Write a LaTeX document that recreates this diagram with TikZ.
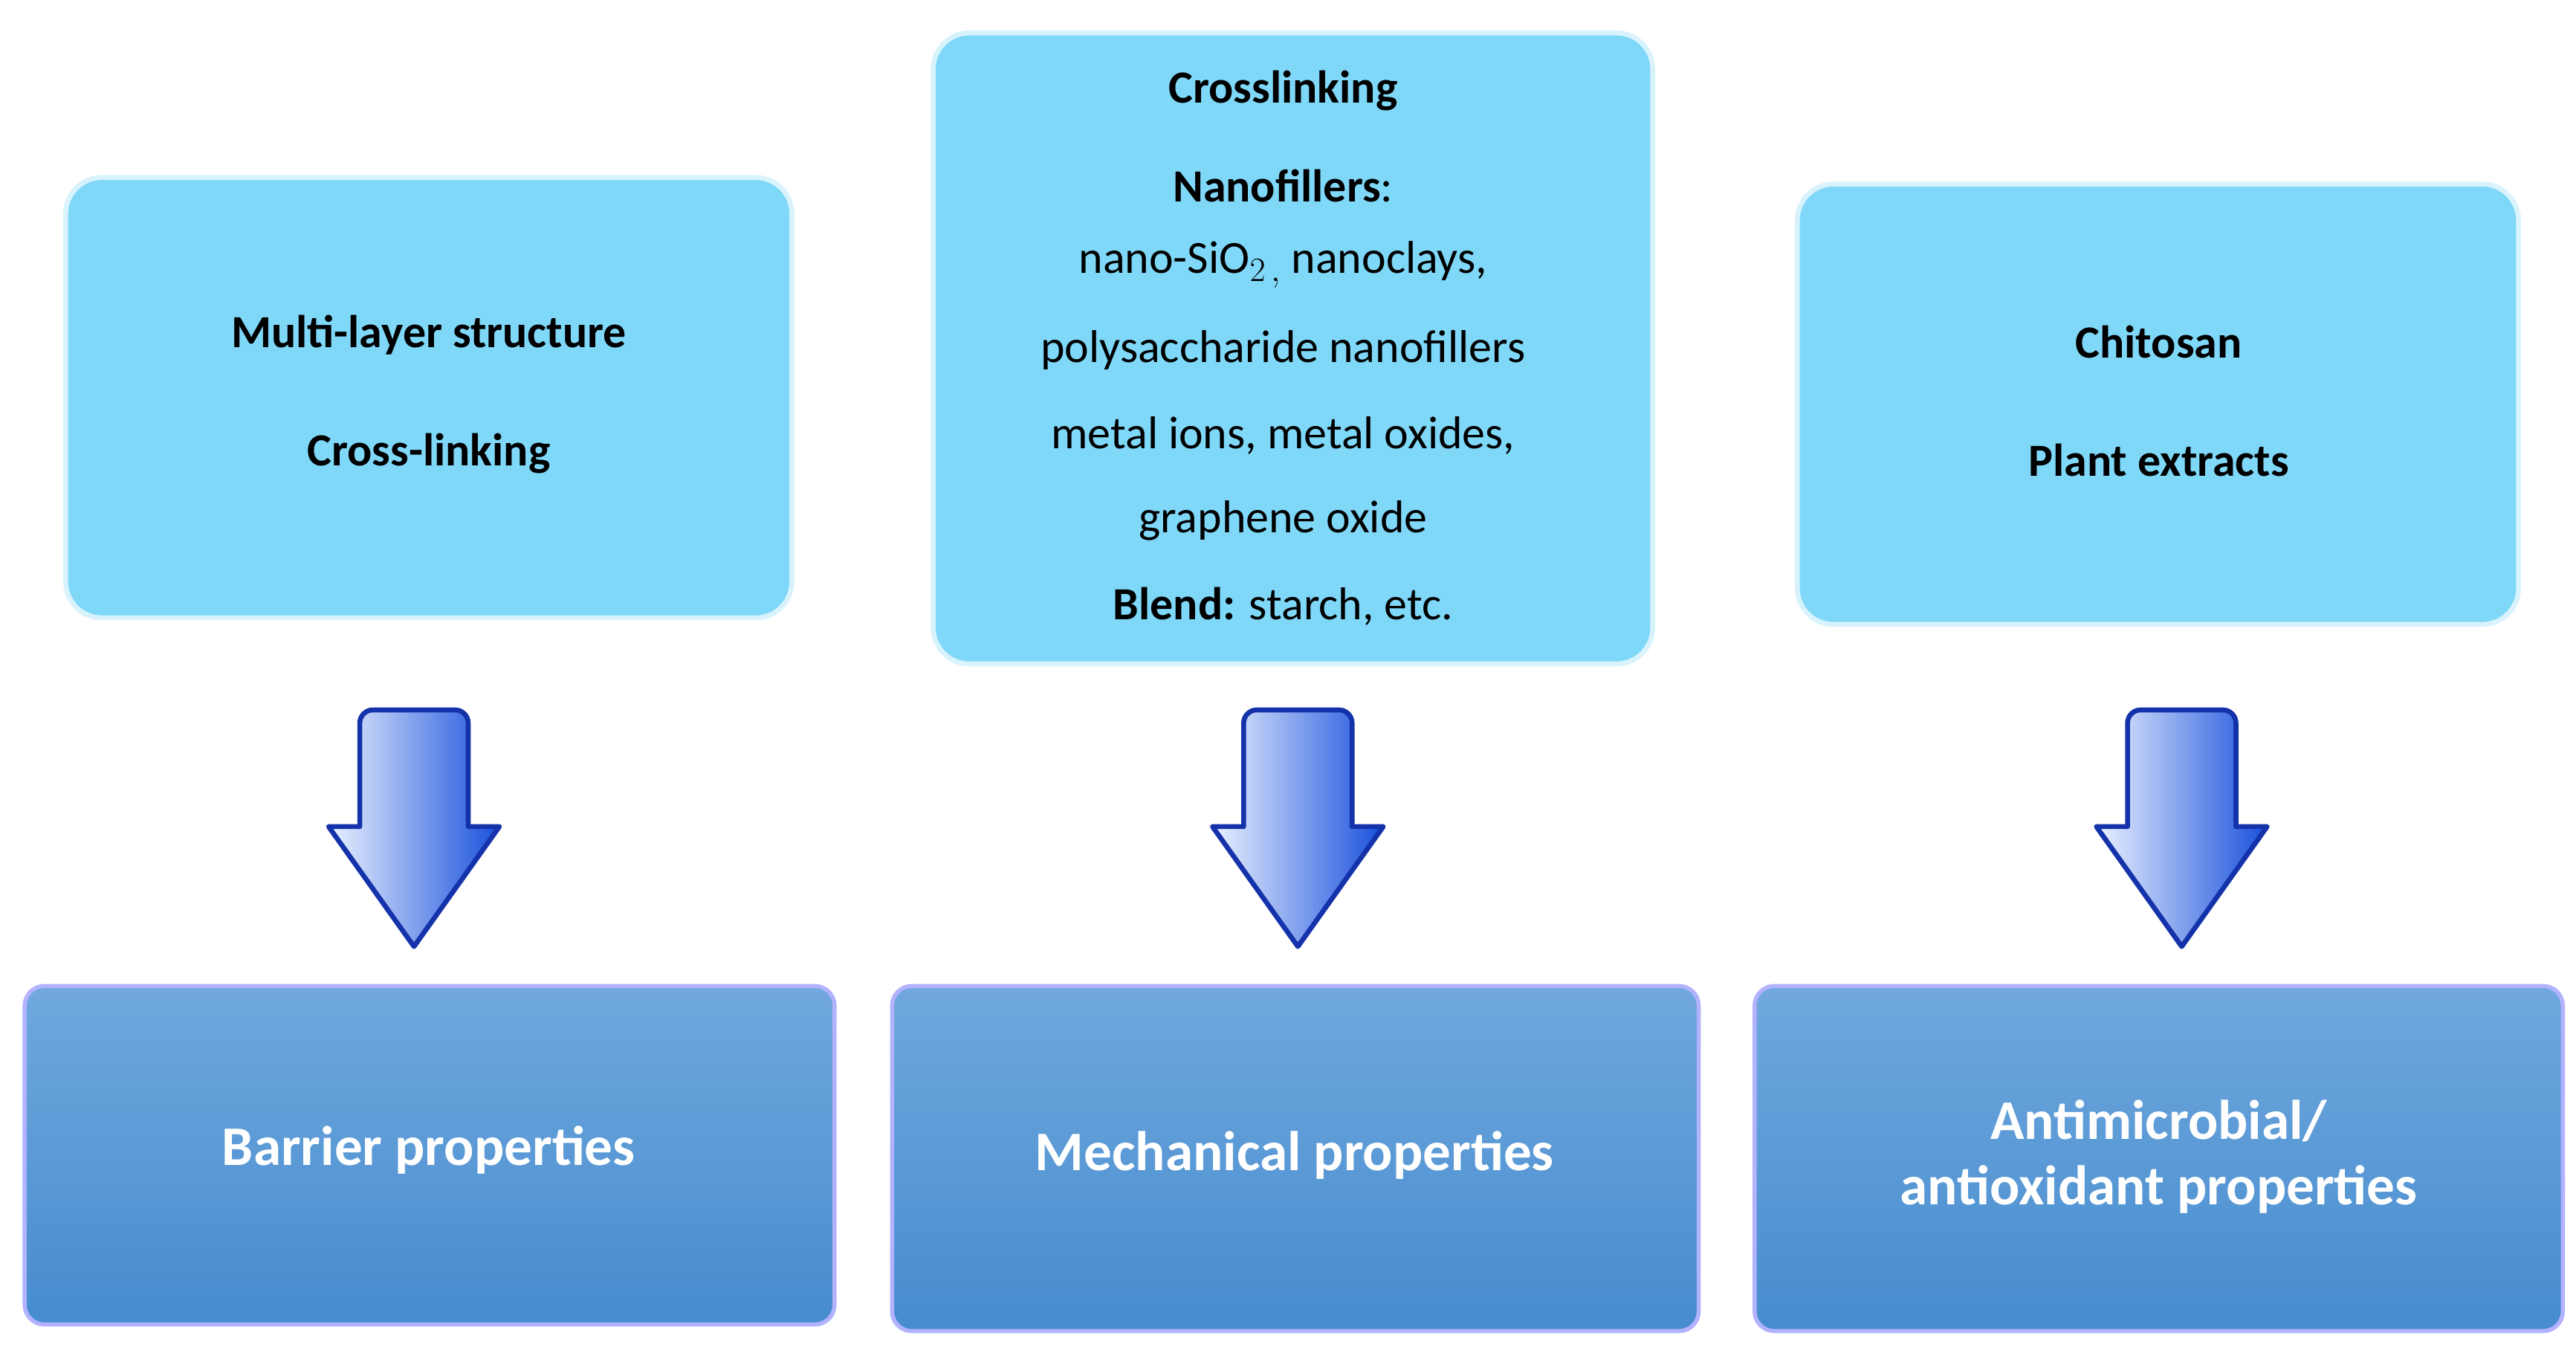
\documentclass[tikz,border=0pt]{standalone}
\usepackage{fontspec}
\setmainfont{Carlito}
\begin{document}
\begin{tikzpicture}[x=1pt,y=-1pt,
  top/.style={draw=white!85!cyan,line width=3pt,fill={rgb,255:red,128;green,216;blue,248},rounded corners=22pt,inner sep=0pt},
  bot/.style={draw=white!70!blue,line width=2.5pt,rounded corners=12pt,top color={rgb,255:red,112;green,168;blue,222},bottom color={rgb,255:red,70;green,140;blue,206},inner sep=0pt},
  txt/.style={font=\fontsize{28}{30}\selectfont,align=center},
  btxt/.style={font=\fontsize{34}{40}\selectfont\bfseries,text=white,align=center},
  arr/.style={draw={rgb,255:red,20;green,50;blue,170},line width=3pt,line join=round,left color={rgb,255:red,235;green,242;blue,255},right color={rgb,255:red,25;green,80;blue,220}}]
\useasboundingbox (0,0) rectangle (1568,823);
\fill[white] (0,0) rectangle (1568,823);
% top boxes
\path[top] (40,108) rectangle (482,376);
\path[top] (568,20) rectangle (1006,404);
\path[top] (1094,112) rectangle (1533,380);
\node[txt] (t1a) at (261,204) {\bfseries Multi-layer structure};
\node[txt] (t1b) at (261,276) {\bfseries Cross-linking};
\node[txt] (t2a) at (781,55) {\bfseries Crosslinking};
\node[txt] (t2b) at (781,113) {\textbf{Nanofillers}:};
\node[txt] (t2c) at (781,161) {nano-SiO$_{2\,,}$ nanoclays,};
\node[txt] (t2d) at (781,213) {polysaccharide nanofillers};
\node[txt] (t2e) at (781,265) {metal ions, metal oxides,};
\node[txt] (t2f) at (781,317) {graphene oxide};
\node[txt] (t2g) at (781,369) {\textbf{Blend:} starch, etc.};
\node[txt] (t3a) at (1314,208) {\bfseries Chitosan};
\node[txt] (t3b) at (1314,280) {\bfseries Plant extracts};
% arrows
\foreach \c in {252,790,1328}{
  \path[arr] (\c-33,440) arc[start angle=180,end angle=270,radius=8] -- (\c+25,432) arc[start angle=270,end angle=360,radius=8]
    -- (\c+33,503) -- (\c+52,503) -- (\c,576) -- (\c-52,503) -- (\c-33,503) -- cycle;
}
% bottom boxes
\path[bot] (15,600) rectangle (508,806);
\path[bot] (543,600) rectangle (1034,810);
\path[bot] (1068,600) rectangle (1560,810);
\node[btxt] (b1) at (261,700) {Barrier properties};
\node[btxt] (b2) at (788,703) {Mechanical properties};
\node[btxt] (b3) at (1314,704) {Antimicrobial/\\antioxidant properties};
\end{tikzpicture}
\end{document}
